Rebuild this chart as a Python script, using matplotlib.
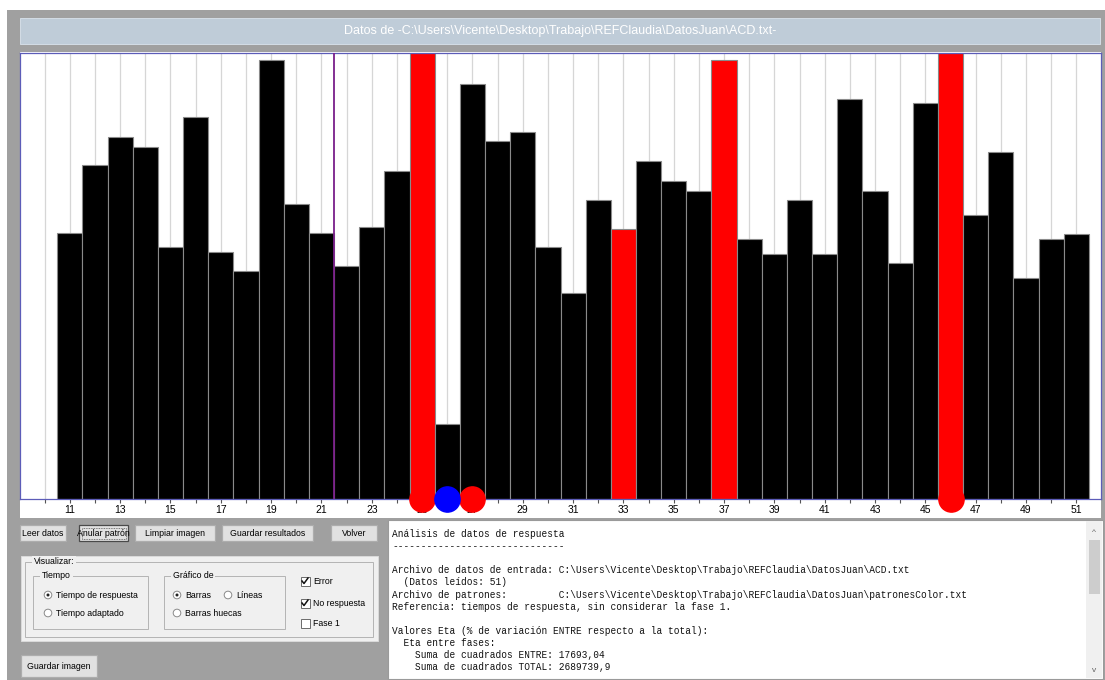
import matplotlib.pyplot as plt
import matplotlib.patches as mpatches
from matplotlib import font_manager
import numpy as np

# tiempos de respuesta (ms) de los ensayos 11..51 (fase 1 = ensayos 1..10, no mostrada)
ensayos = np.arange(11, 52)
tiempos = [1194, 1498, 1624, 1579, 1129, 1711, 1108, 1022, 1970, 1321,
           1194, 1047, 1218, 1473, 2350, 335, 1859, 1604, 1644, 1129,
           925, 1340, 1211, 1514, 1427, 1382, 1969, 1167, 1099, 1340,
           1099, 1795, 1382, 1059, 1774, 2600, 1274, 1555, 992, 1167, 1187]
errores = [25, 33, 37, 46]          # barras rojas
marcas_rojas = [25, 27, 46]         # circulos rojos al pie
marcas_azules = [26]                # circulo azul (no respuesta)
cambio_fase = 21.5
etiquetas_x = np.arange(11, 52, 2)
ticks_menores = np.arange(10, 52, 2)

titulo = "Datos de -C:\\Users\\Vicente\\Desktop\\Trabajo\\REFClaudia\\DatosJuan\\ACD.txt-"
informe = [
    "Análisis de datos de respuesta",
    "------------------------------",
    "",
    "Archivo de datos de entrada: C:\\Users\\Vicente\\Desktop\\Trabajo\\REFClaudia\\DatosJuan\\ACD.txt",
    "  (Datos leídos: 51)",
    "Archivo de patrones:         C:\\Users\\Vicente\\Desktop\\Trabajo\\REFClaudia\\DatosJuan\\patronesColor.txt",
    "Referencia: tiempos de respuesta, sin considerar la fase 1.",
    "",
    "Valores Eta (% de variación ENTRE respecto a la total):",
    "  Eta entre fases:",
    "    Suma de cuadrados ENTRE: 17693,04",
    "    Suma de cuadrados TOTAL: 2689739,9",
]

# fuente estrecha tipo "MS Sans Serif" si existe
nombres = {f.name for f in font_manager.fontManager.ttflist}
if 'Liberation Sans Narrow' in nombres:
    UI, FS = 'Liberation Sans Narrow', 7.4
else:
    UI, FS = 'Liberation Sans', 6.3

W, H = 1105, 680
fig = plt.figure(figsize=(W / 100, H / 100), dpi=100)
fig.patch.set_facecolor('white')

# fondo de la ventana, en pixeles
bg = fig.add_axes([0, 0, 1, 1])
bg.set_xlim(0, W)
bg.set_ylim(H, 0)
bg.axis('off')


def rect(x0, y0, x1, y1, fc, ec='none', lw=0.8, **kw):
    bg.add_patch(mpatches.Rectangle((x0, y0), x1 - x0, y1 - y0, facecolor=fc,
                                    edgecolor=ec, linewidth=lw, **kw))


def boton(x0, y0, x1, y1, texto, foco=False):
    rect(x0, y0, x1, y1, '#e1e1e1', '#4a4a4a' if foco else '#adadad', 0.9)
    if foco:
        rect(x0 + 2.5, y0 + 2.5, x1 - 2.5, y1 - 2.5, 'none', '#555555', 0.6, linestyle=(0, (1, 1)))
    bg.text((x0 + x1) / 2, (y0 + y1) / 2 + 0.5, texto, ha='center', va='center',
            fontsize=FS, family=UI)


def radio(x, y, texto, marcado=False):
    bg.add_patch(mpatches.Circle((x, y), 3.8, facecolor='white', edgecolor='#8a8a8a', linewidth=0.7))
    if marcado:
        bg.add_patch(mpatches.Circle((x, y), 1.5, facecolor='#222222', edgecolor='none'))
    bg.text(x + 8, y + 0.5, texto, ha='left', va='center', fontsize=FS, family=UI)


def casilla(x, y, texto, marcado=False):
    rect(x - 4.5, y - 4.5, x + 4.5, y + 4.5, 'white', '#6a6a6a', 0.7)
    if marcado:
        bg.plot([x - 3, x - 1, x + 3], [y, y + 2.5, y - 3], color='#111111', lw=1.1)
    bg.text(x + 8, y + 0.5, texto, ha='left', va='center', fontsize=FS, family=UI)


def grupo(x0, y0, x1, y1, texto, fc):
    rect(x0, y0, x1, y1, 'none', '#b4b4b4', 0.7)
    bg.text(x0 + 9, y0, texto, ha='left', va='center', fontsize=FS, family=UI,
            bbox=dict(facecolor=fc, edgecolor='none', pad=1.2))


rect(7, 10, W, H, '#a0a0a0')
rect(20, 18, 1100, 44, '#bfccd8', '#d4dde6', 0.7)
bg.text(560, 31, titulo, ha='center', va='center', color='white', fontsize=9, family='Liberation Sans')
rect(20, 52, 1101, 518, 'white')

# botones
boton(20, 525, 66, 541, "Leer datos")
boton(79, 525, 128, 541, "Anular patrón", foco=True)
boton(135, 525, 215, 541, "Limpiar imagen")
boton(222, 525, 313, 541, "Guardar resultados")
boton(331, 525, 377, 541, "Volver")
boton(21, 655, 97, 677, "Guardar imagen")

# panel Visualizar
rect(21, 556, 378, 641, '#f0f0f0', '#dadada', 0.7)
grupo(25, 562, 373, 637, "Visualizar:", '#f0f0f0')
grupo(33, 576, 148, 629, "Tiempo", '#f0f0f0')
grupo(164, 576, 285, 629, "Gráfico de", '#f0f0f0')
radio(48, 595, "Tiempo de respuesta", True)
radio(48, 613, "Tiempo adaptado")
radio(177, 595, "Barras", True)
radio(228, 595, "Líneas")
radio(177, 613, "Barras huecas")
casilla(305, 581, "Error", True)
casilla(305, 603, "No respuesta", True)
casilla(305, 623, "Fase 1")

# panel de texto con barra de desplazamiento
rect(388, 520, 1103, 679, 'white', '#9a9a9a', 0.8)
rect(1086, 521, 1102, 678, '#f0f0f0')
rect(1089, 540, 1100, 594, '#cdcdcd')
bg.text(1094, 533, "^", ha='center', va='center', fontsize=6, color='#606060', family='Liberation Sans')
bg.text(1094, 670, "v", ha='center', va='center', fontsize=6, color='#606060', family='Liberation Sans')
for i, linea in enumerate(informe):
    bg.text(392, 534 + i * 12.1, linea, ha='left', va='center', fontsize=6.85,
            family='Liberation Mono', color='#111111')

# grafico de barras
ax = fig.add_axes([20 / W, 1 - 499 / H, (1101 - 20) / W, (499 - 53) / H])
ax.set_facecolor('white')
colores = ['red' if e in errores else 'black' for e in ensayos]
ax.bar(ensayos, tiempos, width=1.0, color=colores, edgecolor='#8a8a8a', linewidth=0.8, zorder=2)
ax.axvline(cambio_fase, color='#7a1f8a', lw=1.3, zorder=3)
ax.scatter(marcas_rojas, np.zeros(len(marcas_rojas)), s=330, color='red', zorder=6, clip_on=False)
ax.scatter(marcas_azules, np.zeros(len(marcas_azules)), s=330, color='blue', zorder=6, clip_on=False)
ax.set_xlim(9.02, 51.98)
ax.set_ylim(0, 2000)
ax.set_xticks(etiquetas_x)
ax.set_xticks(ticks_menores, minor=True)
ax.set_yticks([])
ax.set_axisbelow(True)
ax.grid(True, which='both', axis='x', color='#d6d6d6', lw=0.9)
ax.tick_params(axis='x', which='both', length=3, width=0.8, color='#555555', pad=1.5,
               labelsize=7.5)
for lab in ax.get_xticklabels():
    lab.set_family(UI)
for s in ax.spines.values():
    s.set_color('#5c5cb8')
    s.set_linewidth(0.9)

fig.savefig('out.png', dpi=100)
